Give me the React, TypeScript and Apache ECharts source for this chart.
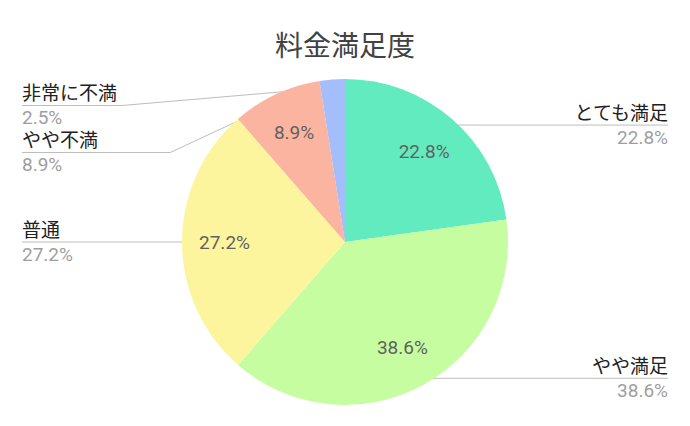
import React, { useEffect, useRef } from 'react';
import * as echarts from 'echarts';

const categories = ['とても満足', 'やや満足', '普通', 'やや不満', '非常に不満'];
const values = [22.8, 38.6, 27.2, 8.9, 2.5];
const colors = ['#62EBBE', '#C6FDA0', '#FCF59D', '#FBB49F', '#A3BEFA'];
const title = '料金満足度';

const FONT = 'Roboto, "Noto Sans CJK JP", sans-serif';

const App: React.FC = () => {
  const chartRef = useRef<HTMLDivElement>(null);

  useEffect(() => {
    if (!chartRef.current) return;
    const chart = echarts.init(chartRef.current, null, { renderer: 'svg' });

    const data = categories.map((name, i) => ({ name, value: values[i] }));

    // label area is kept roughly between the top and bottom of the pie
    const labelTop = 82;
    const labelBottom = 426 - 405;

    const option: any = {
      animation: false,
      title: {
        text: title,
        left: 'center',
        top: 27,
        textStyle: {
          fontFamily: FONT,
          fontSize: 28,
          fontWeight: 'normal',
          color: '#424242'
        }
      },
      series: [
        // visible slices
        {
          type: 'pie',
          center: [345, 242],
          radius: 163,
          startAngle: 90,
          silent: true,
          label: { show: false },
          labelLine: { show: false },
          data: data.map((d, i) => ({ ...d, itemStyle: { color: colors[i] } }))
        },
        // percentages inside the slices
        {
          type: 'pie',
          center: [345, 242],
          radius: [80, 155],
          startAngle: 90,
          silent: true,
          itemStyle: { color: 'transparent' },
          label: {
            position: 'inside',
            fontFamily: FONT,
            fontSize: 19,
            color: '#616161',
            formatter: (p: any) => (p.value >= 5 ? p.value.toFixed(1) + '%' : '')
          },
          labelLine: { show: false },
          data
        },
        // outside labels with leader lines
        {
          type: 'pie',
          top: labelTop,
          bottom: labelBottom,
          left: 0,
          right: 0,
          center: [345, 242 - labelTop],
          radius: 155,
          startAngle: 90,
          silent: true,
          itemStyle: { color: 'transparent' },
          label: {
            position: 'outside',
            alignTo: 'edge',
            edgeDistance: 22,
            minMargin: 4,
            formatter: (p: any) => `{n|${p.name}}\n{v|${p.value.toFixed(1)}%}`,
            rich: {
              n: { fontFamily: FONT, fontSize: 19, color: '#212121', lineHeight: 24 },
              v: { fontFamily: FONT, fontSize: 19, color: '#9E9E9E', lineHeight: 24 }
            }
          },
          labelLine: {
            show: true,
            length: 0,
            length2: 10,
            lineStyle: { color: '#BDBDBD', width: 1 }
          },
          labelLayout: (params: any) => {
            const pts = params.labelLinePoints;
            if (!pts) return {};
            const isLeft = params.labelRect.x < 345;
            pts[2][0] = isLeft ? params.labelRect.x : params.labelRect.x + params.labelRect.width;
            return { labelLinePoints: pts };
          },
          data
        }
      ]
    };

    chart.setOption(option);

    return () => {
      chart.dispose();
    };
  }, []);

  return (
    <div
      ref={chartRef}
      style={{ position: 'absolute', left: 0, top: 0, width: '690px', height: '426px', background: '#fff' }}
    />
  );
};

export default App;
